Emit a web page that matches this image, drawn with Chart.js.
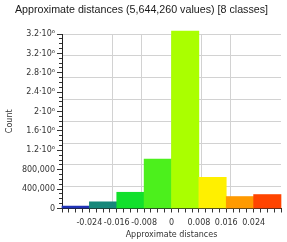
<!DOCTYPE html>
<html>
<head>
<meta charset="utf-8">
<script src="https://cdn.jsdelivr.net/npm/chart.js@4/dist/chart.umd.min.js"></script>
<style>
  html, body { margin: 0; padding: 0; background: #ffffff; }
  #wrap { width: 287px; height: 242px; }
</style>
</head>
<body>
<div id="wrap"><canvas id="c" width="287" height="242"></canvas></div>
<script>
// ---- data ----
const titleText = 'Approximate distances (5,644,260 values) [8 classes]';
const xTitle = 'Approximate distances';
const yTitle = 'Count';
const binLabels = ['-0.032..-0.024', '-0.024..-0.016', '-0.016..-0.008', '-0.008..0', '0..0.008', '0.008..0.016', '0.016..0.024', '0.024..0.032'];
const counts = [50000, 138000, 335000, 1020000, 3660000, 644000, 247000, 288000];
const barColors = ['#1f32b6', '#17887a', '#12e02c', '#4cf01c', '#aaff00', '#fff000', '#ff9a00', '#ff4400'];
const xTickValues = [-0.024, -0.016, -0.008, 0, 0.008, 0.016, 0.024];
const xTickLabels = ['-0.024', '-0.016', '-0.008', '0', '0.008', '0.016', '0.024'];
const yTickValues = [0, 400000, 800000, 1200000, 1600000, 2000000, 2400000, 2800000, 3200000, 3600000];
const yTickLabels = ['0', '400,000', '800,000', '1.2\u00b710\u2076', '1.6\u00b710\u2076', '2\u00b710\u2076', '2.4\u00b710\u2076', '2.8\u00b710\u2076', '3.2\u00b710\u2076', '3.2\u00b710\u2076'];

const tickFont = { family: 'DejaVu Sans', size: 8 };
const gridColor = '#d2d2d2';

function labelFor(values, labels, v) {
  for (let i = 0; i < values.length; i++) {
    if (Math.abs(values[i] - v) < 1e-9 * Math.max(1, Math.abs(values[i]))) return labels[i];
  }
  return '';
}
function isMajorY(v) {
  return Math.abs(v / 400000 - Math.round(v / 400000)) < 1e-6;
}

new Chart(document.getElementById('c'), {
  type: 'bar',
  data: {
    labels: binLabels,
    datasets: [{
      data: counts,
      xAxisID: 'xb',
      yAxisID: 'y',
      backgroundColor: barColors,
      borderWidth: 0,
      barPercentage: 1.0,
      categoryPercentage: 1.0,
      clip: false
    }]
  },
  options: {
    responsive: false,
    animation: false,
    events: [],
    layout: { padding: { left: 0, right: 4, top: 0, bottom: 0 } },
    plugins: {
      legend: { display: false },
      tooltip: { enabled: false },
      title: {
        display: true,
        text: titleText,
        color: '#1a1a1a',
        font: { family: 'Liberation Sans', size: 10.7, weight: 'normal', lineHeight: 1.2 },
        padding: { top: 4, bottom: 17.2 }
      }
    },
    scales: {
      xb: {
        type: 'category',
        position: 'top',
        offset: true,
        grid: { display: false, drawTicks: false },
        border: { display: false },
        ticks: { display: false }
      },
      x: {
        type: 'linear',
        position: 'bottom',
        min: -0.032,
        max: 0.032,
        offset: false,
        grid: {
          offset: false,
          drawOnChartArea: false,
          drawTicks: true,
          tickLength: 4,
          tickColor: '#333333'
        },
        border: { display: true, color: '#222222', width: 1 },
        ticks: {
          stepSize: 0.002,
          autoSkip: false,
          maxRotation: 0,
          minRotation: 0,
          padding: 6,
          color: '#333333',
          font: tickFont,
          callback: (v) => labelFor(xTickValues, xTickLabels, v)
        },
        title: {
          display: true,
          text: xTitle,
          color: '#333333',
          font: tickFont,
          padding: { top: 2, bottom: 2 }
        },
        afterFit: (s) => { s.height = 33.5; }
      },
      x2: {
        type: 'linear',
        position: 'top',
        min: -0.02966,
        max: 0.02966,
        offset: false,
        grid: {
          offset: false,
          drawTicks: false,
          color: gridColor,
          borderDash: [1, 2],
          lineWidth: 1
        },
        border: { display: false },
        ticks: { display: false, stepSize: 0.008 },
        afterBuildTicks: (s) => { s.ticks = s.ticks.filter(t => Math.abs(t.value) < 0.029); }
      },
      y: {
        type: 'linear',
        position: 'left',
        min: 0,
        max: 3600000,
        grid: {
          drawOnChartArea: false,
          drawTicks: true,
          tickLength: 5,
          tickColor: '#333333',
          tickBorderDash: (ctx) => (ctx.tick && !isMajorY(ctx.tick.value)) ? [0, 2, 3, 20] : []
        },
        border: { display: true, color: '#222222', width: 1 },
        ticks: {
          stepSize: 100000,
          autoSkip: false,
          padding: 2,
          color: '#333333',
          font: tickFont,
          callback: (v) => labelFor(yTickValues, yTickLabels, v)
        },
        title: {
          display: true,
          text: yTitle,
          color: '#333333',
          font: tickFont,
          padding: { top: 5, bottom: 0 }
        },
        afterFit: (s) => { s.width = 62; }
      },
      y2: {
        type: 'linear',
        position: 'right',
        min: 0,
        max: 3600000,
        grid: {
          drawTicks: false,
          color: (ctx) => (ctx.tick && ctx.tick.value === 0) ? 'rgba(0,0,0,0)' : gridColor,
          borderDash: [1, 2],
          lineWidth: 1
        },
        border: { display: false },
        ticks: { display: false, stepSize: 450000 }
      }
    }
  }
});
</script>
</body>
</html>
